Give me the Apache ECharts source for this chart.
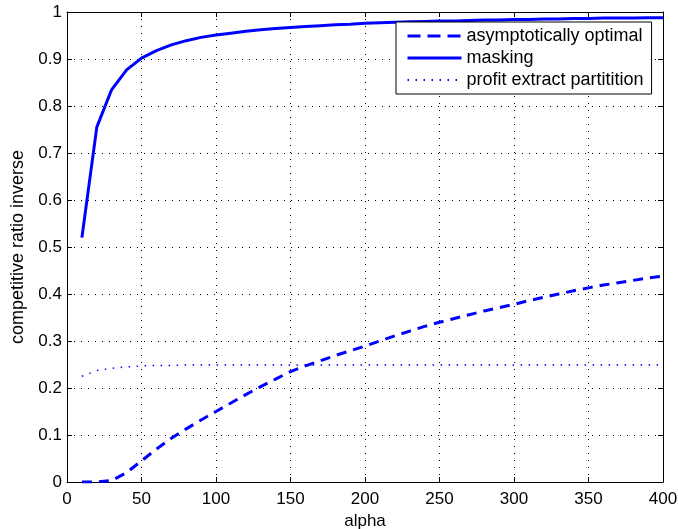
<!DOCTYPE html>
<html><head><meta charset="utf-8">
<script src="https://cdn.jsdelivr.net/npm/echarts@6/dist/echarts.min.js"></script>
<style>html,body{margin:0;padding:0;background:#fff}#c{width:678px;height:529px}</style>
</head><body><div id="c"></div>
<script>
const alphas = [10,20,30,40,50,60,70,80,90,100,110,120,130,140,150,160,170,180,190,200,210,220,230,240,250,260,270,280,290,300,310,320,330,340,350,360,370,380,390,400];
const asymptoticallyOptimal = [0,0,0.003,0.02,0.045,0.07,0.093,0.113,0.132,0.15,0.168,0.186,0.203,0.219,0.235,0.247,0.258,0.269,0.279,0.289,0.300,0.311,0.321,0.331,0.340,0.348,0.356,0.364,0.371,0.378,0.386,0.393,0.400,0.407,0.413,0.419,0.424,0.429,0.434,0.438];
const masking = [0.52,0.755,0.835,0.877,0.902,0.918,0.930,0.939,0.946,0.951,0.955,0.959,0.962,0.965,0.967,0.969,0.971,0.973,0.974,0.976,0.977,0.978,0.979,0.980,0.981,0.981,0.982,0.983,0.983,0.984,0.984,0.985,0.985,0.986,0.986,0.987,0.987,0.987,0.988,0.988];
const profitExtract = [0.225,0.237,0.242,0.245,0.247,0.248,0.248,0.249,0.249,0.249,0.249,0.249,0.249,0.249,0.249,0.249,0.249,0.249,0.249,0.249,0.249,0.249,0.249,0.249,0.249,0.249,0.249,0.249,0.249,0.249,0.249,0.249,0.249,0.249,0.249,0.249,0.249,0.249,0.249,0.249];
const seriesNames = ['asymptotically optimal','masking','profit extract partitition'];
const xTicks = [0,50,100,150,200,250,300,350,400];
const yTicks = ['0','0.1','0.2','0.3','0.4','0.5','0.6','0.7','0.8','0.9','1'];

const font = 'Liberation Sans, Arial, Helvetica, sans-serif';
const pair = arr => alphas.map((a,i)=>[a,arr[i]]);
const gridLine = {show:true, lineStyle:{color:'#000', width:1, type:[1,6]}};
const base = {min:0, axisLine:{show:true,onZero:false,lineStyle:{color:'#000',width:1}}, axisTick:{show:true,inside:true,length:5,lineStyle:{color:'#000'}}};
const blue = '#0000ff';
const styles = [
  {color:blue, width:3, type:[10,7]},
  {color:blue, width:3, type:'solid'},
  {color:blue, width:1.5, type:[1.5,6.5]}
];
const legendStyles = [
  {color:blue, width:3, type:[13,7]},
  {color:blue, width:3, type:'solid'},
  {color:blue, width:2, type:[1.5,6.5]}
];
const chart = echarts.init(document.getElementById('c'));
chart.setOption({
  animation:false,
  grid:{left:67,top:12,right:15,bottom:47,containLabel:false,outerBoundsMode:'none'},
  legend:{
    left:396, top:22, orient:'vertical',
    itemWidth:54, itemHeight:14, itemGap:4, itemTextGap:7,
    padding:[5,8,5,10],
    backgroundColor:'#fff', borderColor:'#000', borderWidth:1, borderRadius:0,
    itemStyle:{opacity:0},
    textStyle:{fontFamily:font, fontSize:18, color:'#000'},
    data:seriesNames.map((n,i)=>({name:n, lineStyle:legendStyles[i], itemStyle:{opacity:0}}))
  },
  xAxis:[
    Object.assign({}, base, {type:'value', max:400, interval:50, position:'bottom',
      name:'alpha', nameLocation:'middle', nameGap:27, nameTextStyle:{fontFamily:font,fontSize:17,color:'#000'},
      axisLabel:{fontFamily:font,fontSize:17,color:'#000',margin:9, formatter:v=>xTicks.includes(v)?String(v):''},
      splitLine:gridLine}),
    Object.assign({}, base, {type:'value', max:400, interval:50, position:'top', axisLabel:{show:false}, splitLine:{show:false}})
  ],
  yAxis:[
    Object.assign({}, base, {type:'value', max:1, interval:0.1, position:'left',
      name:'competitive ratio inverse', nameLocation:'middle', nameGap:38, nameRotate:90, nameTextStyle:{fontFamily:font,fontSize:18,color:'#000'},
      axisLabel:{fontFamily:font,fontSize:17,color:'#000',margin:5, formatter:v=>yTicks[Math.round(v*10)]},
      splitLine:gridLine}),
    Object.assign({}, base, {type:'value', max:1, interval:0.1, position:'right', axisLabel:{show:false}, splitLine:{show:false}})
  ],
  series:seriesNames.map((n,i)=>({
    name:n, type:'line', data:pair([asymptoticallyOptimal,masking,profitExtract][i]),
    showSymbol:false, symbol:'none', lineStyle:styles[i], itemStyle:{color:blue}
  }))
});
</script></body></html>
